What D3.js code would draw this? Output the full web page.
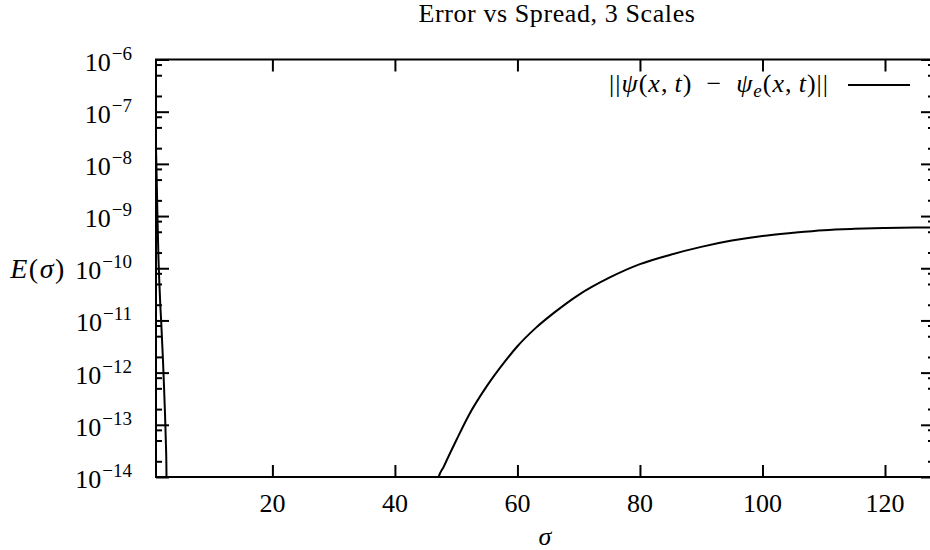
<!DOCTYPE html>
<html>
<head>
<meta charset="utf-8">
<script src="https://cdn.jsdelivr.net/npm/d3@7"></script>
<style>
  html, body { margin: 0; padding: 0; background: #fff; }
  svg { display: block; }
  text { font-family: "Liberation Serif", "Times New Roman", serif; fill: #000; }
</style>
</head>
<body>
<script>
// ---- data ----
const sigma = [1.0, 1.1, 1.2, 1.3, 1.4, 1.55, 1.7, 1.85, 2.0, 2.15, 2.3, 2.45, 2.6, 2.7, 2.8,
               46, 47, 48, 50, 52, 55, 58, 60, 63, 66, 70, 75, 80, 85, 90, 95, 100, 105, 110, 115, 120, 125, 128];
const errorNorm = [2.0e-8, 6.2e-9, 1.6e-9, 4.9e-10, 1.6e-10, 5.2e-11, 2.0e-11, 9.4e-12, 3.9e-12, 1.6e-12, 5.8e-13, 1.9e-13, 5.1e-14, 1.5e-14, 1e-16,
                   1e-16, 8.7e-15, 1.6e-14, 5.0e-14, 1.48e-13, 5.5e-13, 1.66e-12, 3.2e-12, 7.2e-12, 1.41e-11, 3.1e-11, 6.6e-11, 1.2e-10, 1.82e-10, 2.57e-10, 3.39e-10, 4.17e-10, 4.79e-10, 5.37e-10, 5.69e-10, 5.89e-10, 6.03e-10, 6.08e-10];
const xTicks = [20, 40, 60, 80, 100, 120];
const yExponents = [-14, -13, -12, -11, -10, -9, -8, -7, -6];
const minorMultipliers = [2, 5, 8];
const titleText = "Error vs Spread, 3 Scales";

// ---- layout ----
const W = 930, H = 550;
const L = 156, R = 934, T = 59.5, B = 477;

const svg = d3.select("body").append("svg").attr("width", W).attr("height", H);
svg.append("rect").attr("width", W).attr("height", H).attr("fill", "#fff");

const x = d3.scaleLinear().domain([1, 128]).range([L, R]);
const y = d3.scaleLog().domain([1e-14, 1e-6]).range([B, T]);

const majors = yExponents.map(e => Math.pow(10, e));
const minors = [];
yExponents.slice(0, -1).forEach(e => minorMultipliers.forEach(m => minors.push(m * Math.pow(10, e))));

function styleAxis(g) {
  g.select(".domain").remove();
  g.selectAll(".tick line").attr("stroke", "#000").attr("stroke-width", 2);
  g.selectAll(".tick text").remove();
}

svg.append("g").attr("transform", `translate(${L},0)`)
  .call(d3.axisLeft(y).tickValues(majors).tickSize(-13).tickFormat("")).call(styleAxis);
svg.append("g").attr("transform", `translate(${L},0)`)
  .call(d3.axisLeft(y).tickValues(minors).tickSize(-6).tickFormat("")).call(styleAxis);
svg.append("g").attr("transform", `translate(${R},0)`)
  .call(d3.axisRight(y).tickValues(majors).tickSize(-13).tickFormat("")).call(styleAxis);
svg.append("g").attr("transform", `translate(${R},0)`)
  .call(d3.axisRight(y).tickValues(minors).tickSize(-6).tickFormat("")).call(styleAxis);
svg.append("g").attr("transform", `translate(0,${B})`)
  .call(d3.axisBottom(x).tickValues(xTicks).tickSize(-12).tickFormat("")).call(styleAxis);
svg.append("g").attr("transform", `translate(0,${T})`)
  .call(d3.axisTop(x).tickValues(xTicks).tickSize(-12).tickFormat("")).call(styleAxis);

svg.append("clipPath").attr("id", "plotclip")
  .append("rect").attr("x", L).attr("y", T).attr("width", R - L).attr("height", B - T);

const pts = sigma.map((s, i) => [s, errorNorm[i]]);
svg.append("path")
  .datum(pts)
  .attr("clip-path", "url(#plotclip)")
  .attr("fill", "none")
  .attr("stroke", "#000")
  .attr("stroke-width", 2)
  .attr("stroke-linejoin", "round")
  .attr("d", d3.line().curve(d3.curveMonotoneX).x(d => x(d[0])).y(d => y(d[1])));

svg.append("rect").attr("x", L).attr("y", T).attr("width", R - L).attr("height", B - T)
  .attr("fill", "none").attr("stroke", "#000").attr("stroke-width", 2);

const fs = 26;
yExponents.forEach(e => {
  const t = svg.append("text")
    .attr("x", 132).attr("y", y(Math.pow(10, e)) + 11)
    .attr("text-anchor", "end").attr("font-size", fs);
  t.append("tspan").text("10");
  t.append("tspan").attr("dx", 1).attr("dy", -11).attr("font-size", 19).text("\u2212" + Math.abs(e));
});

svg.selectAll("text.xt").data(xTicks).enter().append("text")
  .attr("class", "xt")
  .attr("x", d => x(d)).attr("y", 512)
  .attr("text-anchor", "middle").attr("font-size", fs)
  .text(d => d);

svg.append("text").attr("x", 557).attr("y", 22).attr("text-anchor", "middle")
  .attr("font-size", fs).attr("letter-spacing", 0.6).text(titleText);

svg.append("text").attr("x", 545).attr("y", 545).attr("text-anchor", "middle")
  .attr("font-size", fs).attr("font-style", "italic").text("\u03c3");
const yl = svg.append("text").attr("x", 38).attr("y", 278).attr("text-anchor", "middle")
  .attr("font-size", 28).attr("letter-spacing", 1.5);
yl.append("tspan").attr("font-style", "italic").text("E");
yl.append("tspan").text("(");
yl.append("tspan").attr("font-style", "italic").text("\u03c3");
yl.append("tspan").text(")");

const lg = svg.append("text").attr("x", 829).attr("y", 92).attr("text-anchor", "end")
  .attr("font-size", fs).attr("letter-spacing", 1);
const parts = [
  ["||", null], ["\u03c8", "i"], ["(", null], ["x", "i"], [",\u2009", null], ["t", "i"], [")\u2002\u2212\u2002", null],
  ["\u03c8", "i"], ["e", "sub"], ["(", "back"], ["x", "i"], [",\u2009", null], ["t", "i"], [")||", null]
];
parts.forEach(([txt, kind]) => {
  const ts = lg.append("tspan").text(txt);
  if (kind === "i") ts.attr("font-style", "italic");
  if (kind === "sub") ts.attr("font-style", "italic").attr("font-size", 19).attr("dy", 5);
  if (kind === "back") ts.attr("dy", -5);
});
svg.append("line").attr("x1", 848).attr("x2", 910).attr("y1", 85).attr("y2", 85)
  .attr("stroke", "#000").attr("stroke-width", 2);
</script>
</body>
</html>
